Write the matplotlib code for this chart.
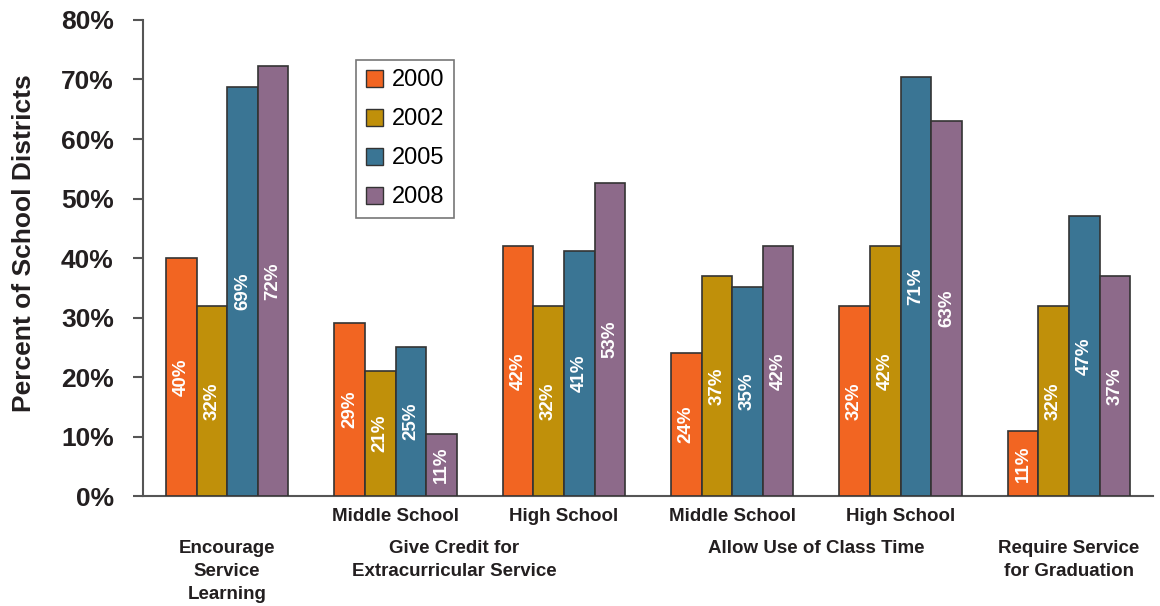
import numpy as np
import matplotlib
matplotlib.use('Agg')
import matplotlib.pyplot as plt
from matplotlib.patches import Patch

plt.rcParams['font.family'] = ['Liberation Sans', 'DejaVu Sans']

# data
years = ['2000', '2002', '2005', '2008']
v2000 = [40, 29, 42, 24, 32, 11]
v2002 = [32, 21, 32, 37, 42, 32]
v2005 = [68.7, 25, 41.2, 35.2, 70.5, 47]
v2008 = [72.2, 10.5, 52.6, 42.1, 63.1, 36.9]
lab2000 = ['40%', '29%', '42%', '24%', '32%', '11%']
lab2002 = ['32%', '21%', '32%', '37%', '42%', '32%']
lab2005 = ['69%', '25%', '41%', '35%', '71%', '47%']
lab2008 = ['72%', '11%', '53%', '42%', '63%', '37%']
sub_labels = ['', 'Middle School', 'High School', 'Middle School', 'High School', '']
group_labels = ['Encourage\nService\nLearning', 'Give Credit for\nExtracurricular Service',
                'Allow Use of Class Time', 'Require Service\nfor Graduation']
group_pos = [0, 1.35, 3.5, 5.0]
colors = ['#F26522', '#C0900A', '#3A7594', '#8D6A8A']

series = [v2000, v2002, v2005, v2008]
labels = [lab2000, lab2002, lab2005, lab2008]

fig = plt.figure(figsize=(11.6, 6.06), dpi=100)
ax = fig.add_axes([0.1233, 0.1815, 0.8707, 0.7855])

x = np.arange(len(v2000))
w = 0.182
for i in range(4):
    xs = x + (i - 1.5) * w
    vals = np.array(series[i]) / 100.0
    ax.bar(xs, vals, w, color=colors[i], edgecolor='#333333', linewidth=1.2, zorder=3)
    for xi, v, t in zip(xs, vals, labels[i]):
        ax.text(xi, v / 2, t, rotation=90, ha='center', va='center', color='white',
                fontsize=13.5, fontweight='bold', zorder=4)

ax.set_xlim(-0.5, 5.5)
ax.set_ylim(0, 0.8)
ax.set_yticks(np.arange(0, 0.81, 0.1))
ax.set_yticklabels(['%d%%' % (t * 10) for t in range(9)], fontsize=19, fontweight='bold', color='#231f20')
ax.tick_params(axis='y', length=7, width=1.5, color='#555555', pad=14)
ax.set_xticks([])
for s in ['top', 'right']:
    ax.spines[s].set_visible(False)
for s in ['left', 'bottom']:
    ax.spines[s].set_color('#555555')
    ax.spines[s].set_linewidth(1.5)

ax.set_ylabel('Percent of School Districts', fontsize=19, fontweight='bold', color='#231f20')
ax.yaxis.set_label_coords(-0.106, 0.532)

# sub labels and group labels
for xi, t in zip(x, sub_labels):
    ax.text(xi, -0.034, t, ha='center', va='center', fontsize=13.5, fontweight='bold',
            color='#231f20', clip_on=False)
for xp, t in zip(group_pos, group_labels):
    ax.text(xp, -0.074, t, ha='center', va='top', fontsize=13.5, fontweight='bold',
            color='#231f20', linespacing=1.45, clip_on=False)

handles = [Patch(facecolor=c, edgecolor='#333333', linewidth=1.0) for c in colors]
leg = ax.legend(handles, years, loc='upper left', bbox_to_anchor=(0.211, 0.916),
                fontsize=17, frameon=True, fancybox=False, edgecolor='#555555',
                handlelength=0.75, handleheight=0.75, handletextpad=0.35,
                labelspacing=0.72, borderpad=0.4, borderaxespad=0)
leg.get_frame().set_linewidth(1.2)

fig.savefig('out.png', dpi=100)
